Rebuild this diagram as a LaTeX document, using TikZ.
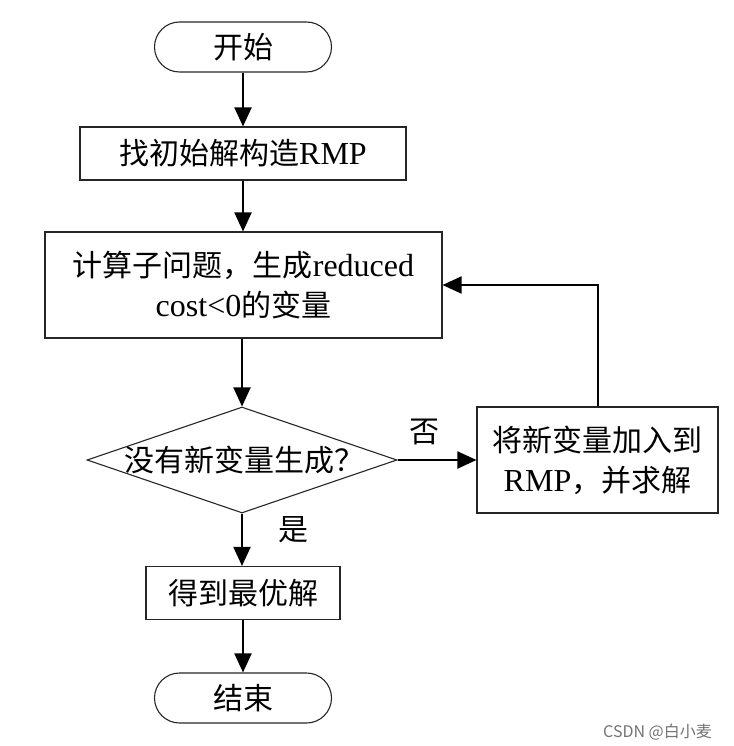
\documentclass[tikz,border=0pt]{standalone}
\usepackage{fontspec}
\setmainfont{Noto Sans CJK SC}
\newfontfamily\lat{Liberation Serif}
\usetikzlibrary{shapes.geometric,arrows.meta}
\tikzset{
  base/.style={draw=black!85, line width=1.1pt, inner sep=0pt, align=center,
    font=\fontsize{30}{40}\selectfont},
  term/.style={base, rounded corners=25pt, minimum width=177pt, minimum height=50pt},
  proc/.style={base, rectangle},
  arr/.style={line width=2pt, -{Triangle[length=19pt,width=17pt]}},
  lbl/.style={font=\fontsize{30}{36}\selectfont, inner sep=0pt},
}
\newcommand{\lt}[1]{{\lat\fontsize{32}{40}\selectfont #1}}
\begin{document}
\begin{tikzpicture}[x=1pt,y=-1pt]
\useasboundingbox (0,0) rectangle (733,746);
\node[term] (start) at (243,47) {开始};
\node[proc, minimum width=326pt, minimum height=53pt] (init) at (243,153.5) {找初始解构造\lt{RMP}};
\node[proc, minimum width=397pt, minimum height=106pt] (sub) at (243.5,285) {计算子问题，生成\lt{reduced}\\\lt{cost<0}的变量};
\node[base, diamond, minimum width=310pt, minimum height=106pt] (dec) at (242,460) {};
\node[lbl] (dectext) at (244,460) {没有新变量生成？};
\node[proc, minimum width=241pt, minimum height=106pt] (add) at (597.5,460) {将新变量加入到\\\lt{RMP}，并求解};
\node[proc, minimum width=194pt, minimum height=53pt] (opt) at (243,593) {得到最优解};
\node[term] (end) at (243,698) {结束};
\node[lbl] (no) at (424,432) {否};
\node[lbl] (yes) at (293,530) {是};
\node[anchor=west, inner sep=0pt, text=black!55, font=\fontsize{16}{18}\selectfont] (wm) at (603,732) {CSDN @白小麦};
\draw[arr] (start.south) -- (init.north);
\draw[arr] (init.south) -- (sub.north -| init.south);
\draw[arr] (sub.south -| dec.north) -- (dec.north);
\draw[arr] (dec.east) -- (add.west);
\draw[arr] (add.north) |- (sub.east);
\draw[arr] (dec.south) -- (opt.north -| dec.south);
\draw[arr] (opt.south) -- (end.north);
\end{tikzpicture}
\end{document}
